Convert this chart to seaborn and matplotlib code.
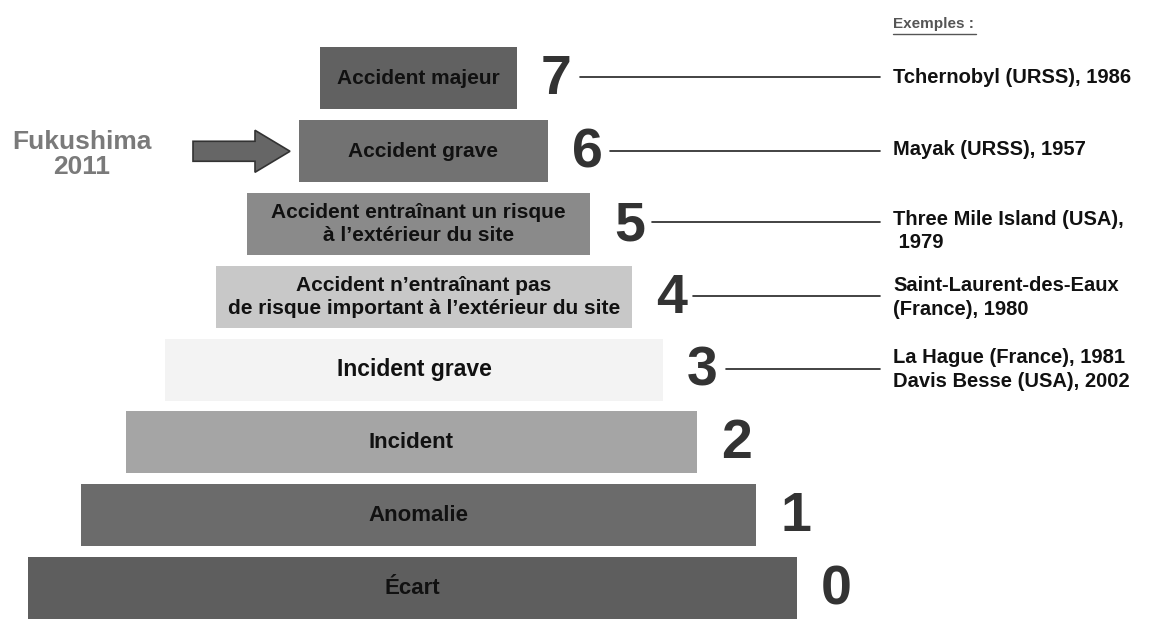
import matplotlib
matplotlib.use("Agg")
import matplotlib.pyplot as plt
import seaborn as sns
from matplotlib.patches import FancyArrow
from matplotlib import font_manager

# ---- data ----
levels = [7, 6, 5, 4, 3, 2, 1, 0]
labels = ["Accident majeur", "Accident grave",
          "Accident entraînant un risque\nà l’extérieur du site",
          "Accident n’entraînant pas\nde risque important à l’extérieur du site",
          "Incident grave", "Incident", "Anomalie", "Écart"]
bar_left = [320, 299, 247, 216, 165, 126, 81, 28]
bar_right = [517, 548, 590, 632, 663, 697, 756, 797]
bar_colors = ["#616161", "#727272", "#8a8a8a", "#c8c8c8", "#f3f3f3", "#a5a5a5", "#6b6b6b", "#5e5e5e"]
example_levels = [7, 6, 5, 4, 3]
examples = ["Tchernobyl (URSS), 1986", "Mayak (URSS), 1957",
            "Three Mile Island (USA),\n 1979",
            "Saint-Laurent-des-Eaux\n(France), 1980",
            "La Hague (France), 1981\nDavis Besse (USA), 2002"]

sns.set_theme(style="white")
avail = {f.name for f in font_manager.fontManager.ttflist}
base = "Liberation Sans" if "Liberation Sans" in avail else "DejaVu Sans"
narrow = "Liberation Sans Narrow" if "Liberation Sans Narrow" in avail else base
plt.rcParams['font.family'] = [base, 'DejaVu Sans']

fig = plt.figure(figsize=(11.49, 6.19), dpi=100)
ax = fig.add_axes([0, 0, 1, 1])
PX = 72.8  # pixels per level
ax.set_xlim(0, 1149)
ax.set_ylim(-(619 - 588) / PX, 7 + 78.5 / PX)
ax.axis("off")

widths = [r - l for l, r in zip(bar_left, bar_right)]
ax.barh(levels, widths, left=bar_left, height=62 / PX, color=bar_colors, edgecolor="none")

label_size = {7: 15, 6: 15, 5: 15, 4: 15, 3: 16.5, 2: 16, 1: 16, 0: 16}
for lv, lab, l, r in zip(levels, labels, bar_left, bar_right):
    ax.text((l + r) / 2, lv, lab, ha="center", va="center", fontsize=label_size[lv],
            fontweight="bold", color="#111111", linespacing=1.3,
            family=[narrow, base] if lv <= 3 else [base])
    ax.text(r + 24, lv - 2 / PX, str(lv), ha="left", va="center", fontsize=40,
            fontweight="bold", color="#333333", family=[narrow, base])

num_right = {7: 580, 6: 610, 5: 652, 4: 693, 3: 726}
line_dy = {7: 1, 6: 0, 5: 2, 4: 1, 3: 1}
text_dy = {7: 0.5, 6: 2, 5: -7, 4: -1, 3: 0}
for lv, ex in zip(example_levels, examples):
    y = lv + line_dy[lv] / PX
    ax.plot([num_right[lv], 880], [y, y], color="#222222", lw=1.2)
    ax.text(893, lv + text_dy[lv] / PX, ex, ha="left", va="center", fontsize=14.5,
            fontweight="bold", color="#111111", linespacing=1.32)

ty = 7 + (78.5 - 24) / PX
ax.text(893, ty, "Exemples :", ha="left", va="center", fontsize=11,
        fontweight="bold", color="#555555")
ax.plot([893, 976], [ty - 10 / PX, ty - 10 / PX], color="#555555", lw=1)

ax.text(82, 6 - 3 / PX, "Fukushima\n2011", ha="center", va="center", fontsize=19,
        fontweight="bold", color="#7a7a7a", linespacing=1.05)
ax.add_patch(FancyArrow(193, 6, 62, 0, width=20 / PX, head_width=42 / PX,
                        head_length=35, length_includes_head=False,
                        facecolor="#666666", edgecolor="#333333", lw=1.2))

fig.savefig("out.png", dpi=100)
